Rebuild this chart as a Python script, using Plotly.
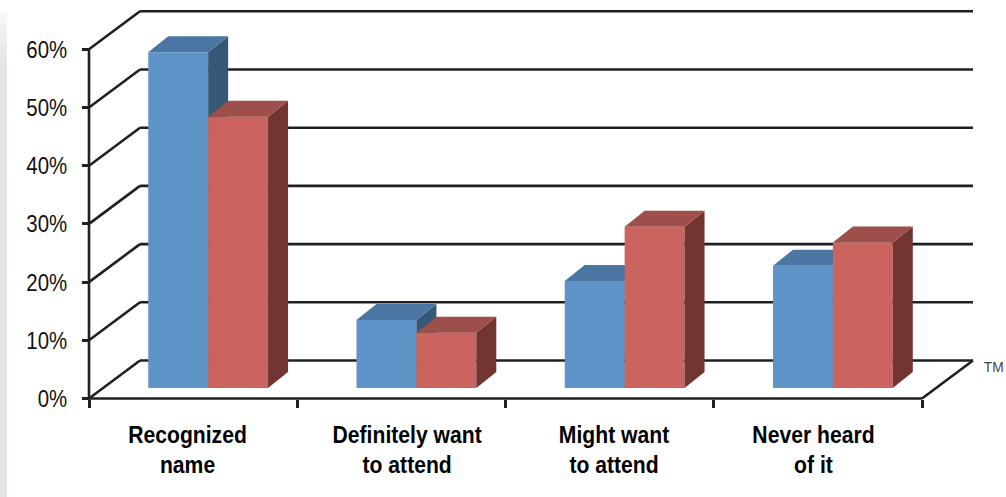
import numpy as np
import plotly.graph_objects as go

# Survey results
categories = ["Recognized<br>name", "Definitely want<br>to attend", "Might want<br>to attend", "Never heard<br>of it"]
blue_values = [57.7, 11.7, 18.4, 21.0]
red_values = [46.6, 9.5, 27.7, 25.0]
percent_ticks = [0, 10, 20, 30, 40, 50, 60]
percent_labels = ["0%", "10%", "20%", "30%", "40%", "50%", "60%"]

W, H = 1006, 497
INK = "#231f20"
FONT = "Liberation Sans, Arial, sans-serif"

# Axis scale: one category slot and one percentage point, in pixels
SLOT = 208.25
PCT = 5.82
ORIGIN_X, ORIGIN_Y = 89.0, 398.5
x_range = [-ORIGIN_X / SLOT, (W - ORIGIN_X) / SLOT]
y_range = [(ORIGIN_Y - H) / PCT, ORIGIN_Y / PCT]

# Oblique projection offsets, in axis units
WALL_DX, WALL_DY = 51 / SLOT, 38 / PCT
BAR_DX, BAR_DY = 20 / SLOT, 16 / PCT
BAR_WIDTH = 59.9 / SLOT
BAR_START = 0.2845
BAR_BASE = 10.5 / PCT


def joined(segments):
    """Flatten (x0, y0, x1, y1) segments into one gap-separated line."""
    xs, ys = [], []
    for x0, y0, x1, y1 in segments:
        xs += [x0, x1, None]
        ys += [y0, y1, None]
    return xs, ys


def faces(lefts, values, kind):
    """Outline of the top or side parallelogram for every bar in a series."""
    xs, ys = [], []
    for left, value in zip(lefts, values):
        top = BAR_BASE + value
        right = left + BAR_WIDTH
        if kind == "top":
            px = [left, right, right + BAR_DX, left + BAR_DX, left]
            py = [top, top, top + BAR_DY, top + BAR_DY, top]
        else:
            px = [right, right + BAR_DX, right + BAR_DX, right, right]
            py = [top, top + BAR_DY, BAR_BASE + BAR_DY, BAR_BASE, top]
        xs += px + [None]
        ys += py + [None]
    return xs, ys


n = len(categories)
slots = np.arange(n)
blue_left = slots + BAR_START
red_left = blue_left + BAR_WIDTH

fig = go.Figure()

# Back wall, left wall and floor edges
segments = []
for p in percent_ticks:
    segments.append((WALL_DX, p + WALL_DY, n + WALL_DX, p + WALL_DY))
    segments.append((0, p, WALL_DX, p + WALL_DY))
segments.append((0, 0, 0, max(percent_ticks)))
segments.append((0, 0, n, 0))
segments.append((n, 0, n + WALL_DX, WALL_DY))
gx, gy = joined(segments)
fig.add_trace(go.Scatter(x=gx, y=gy, mode="lines", line=dict(color=INK, width=2.6),
                         hoverinfo="skip", showlegend=False, xaxis="x", yaxis="y"))


def add_series(lefts, values, front, side, top, xa, ya, name):
    fig.add_trace(go.Bar(x=lefts + BAR_WIDTH / 2, y=values, base=BAR_BASE, width=BAR_WIDTH,
                         marker=dict(color=front, line=dict(width=0)), name=name,
                         showlegend=False, xaxis=xa, yaxis=ya))
    for kind, colour in (("side", side), ("top", top)):
        fx, fy = faces(lefts, values, kind)
        fig.add_trace(go.Scatter(x=fx, y=fy, mode="lines", fill="toself", fillcolor=colour,
                                 line=dict(width=0), hoverinfo="skip", showlegend=False,
                                 xaxis=xa, yaxis=ya))


# Each series sits on its own overlay so the red fronts cover the blue sides
add_series(blue_left, blue_values, "#5f94c8", "#365776", "#4b75a3", "x2", "y2", "Blue")
add_series(red_left, red_values, "#cb645e", "#733532", "#9e4f4b", "x3", "y3", "Red")

# Pale strip down the left edge, fading in towards the top
strip_shades = ["#f6f6f7", "#f1f2f3", "#ecedef", "#e8e9eb", "#e4e6e8"]
strip = []
for i, shade in enumerate(strip_shades):
    strip.append(dict(type="rect", xref="paper", yref="paper", x0=0, x1=7 / W,
                      y0=1 - (13 + (i + 1) * 10) / H, y1=1 - (13 + i * 10) / H,
                      fillcolor=shade, line=dict(width=0), layer="below"))
strip.append(dict(type="rect", xref="paper", yref="paper", x0=0, x1=7 / W,
                  y0=0, y1=1 - (13 + len(strip_shades) * 10) / H,
                  fillcolor="#e1e3e6", line=dict(width=0), layer="below"))

hidden = dict(visible=False, fixedrange=True, domain=[0, 1])
fig.update_layout(
    width=W, height=H,
    margin=dict(l=0, r=0, t=0, b=0),
    paper_bgcolor="white", plot_bgcolor="rgba(0,0,0,0)",
    barmode="overlay",
    showlegend=False,
    xaxis=dict(range=x_range, domain=[0, 1], anchor="free", position=(H - ORIGIN_Y) / H,
               tickmode="array", tickvals=list(range(n + 1)), showticklabels=False,
               ticks="outside", ticklen=8, tickwidth=2.6, tickcolor=INK,
               showgrid=False, zeroline=False, showline=False, fixedrange=True),
    yaxis=dict(range=y_range, domain=[0, 1], anchor="free", position=ORIGIN_X / W,
               tickmode="array", tickvals=percent_ticks, ticktext=percent_labels,
               ticks="outside", ticklen=7, tickwidth=2.6, tickcolor=INK,
               ticklabelstandoff=10,
               tickfont=dict(family=FONT, size=24, color="#111111"),
               showgrid=False, zeroline=False, showline=False, fixedrange=True),
    xaxis2=dict(range=x_range, overlaying="x", anchor="y2", **hidden),
    yaxis2=dict(range=y_range, overlaying="y", anchor="x2", **hidden),
    xaxis3=dict(range=x_range, overlaying="x", anchor="y3", **hidden),
    yaxis3=dict(range=y_range, overlaying="y", anchor="x3", **hidden),
    shapes=strip,
)

# Hand-set category captions under the floor edge
caption_x = [0.4706, 1.53, 2.521, 3.477]
for cx, text in zip(caption_x, categories):
    fig.add_annotation(x=cx, xref="x", y=1 - 450 / H, yref="paper", text=text, showarrow=False,
                       xanchor="center", yanchor="middle", align="center",
                       font=dict(family=FONT, size=23, color="#000000", weight="bold"))

fig.add_annotation(x=993.5 / W, xref="paper", y=1 - 366 / H, yref="paper", text="TM", showarrow=False,
                   xanchor="center", yanchor="middle", font=dict(family=FONT, size=15, color="#444444"))

# The labels are set in a condensed cut: narrow each one about its own anchor
condense = """
var gd = document.getElementById('{plot_id}');
function narrow(sel, k) {
  gd.querySelectorAll(sel).forEach(function (t) {
    var x = parseFloat(t.getAttribute('x')) || 0;
    var prior = t.getAttribute('transform') || '';
    t.setAttribute('transform', prior + ' translate(' + x + ',0) scale(' + k + ',1) translate(' + (-x) + ',0)');
  });
}
narrow('.ytick text', 0.85);
narrow('.annotation-text', 0.92);
"""

fig.write_html("out.html", post_script=condense)
